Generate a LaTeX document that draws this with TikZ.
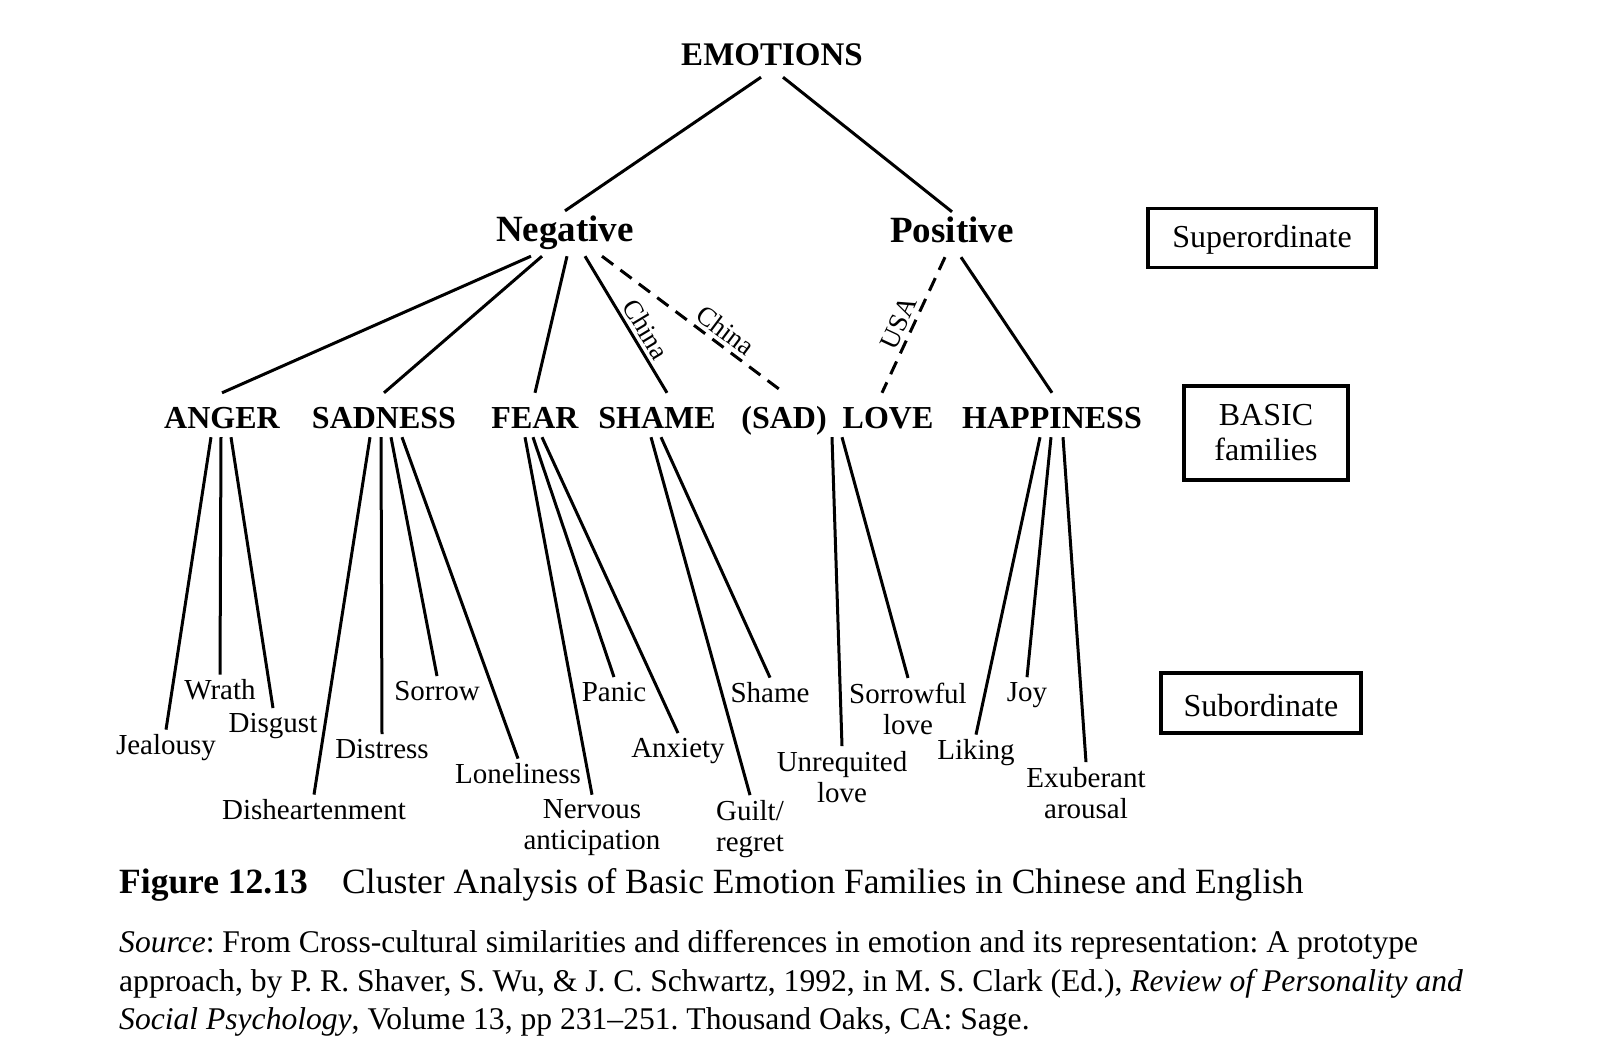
\documentclass[tikz,border=0pt]{standalone}
\usepackage{fontspec}
\setmainfont{Liberation Serif}
\usetikzlibrary{calc}
\tikzset{
    rootnode/.style = {font=\fontsize{33}{36}\selectfont\bfseries, anchor=base,
        inner sep=2pt, text depth=10pt},
    signnode/.style = {font=\fontsize{37}{40}\selectfont\bfseries, anchor=base,
        inner sep=2pt, text height=28pt, text depth=13pt},
    familynode/.style = {font=\fontsize{32}{35}\selectfont\bfseries, anchor=base,
        inner sep=2pt, text height=33pt, text depth=7pt},
    subnode/.style = {font=\fontsize{29}{31}\selectfont, align=center, inner sep=5pt},
    levelbox/.style = {draw, line width=3.2pt, font=\fontsize{32}{35}\selectfont,
        align=center, inner sep=0pt},
    link/.style = {draw, line width=3pt},
    culturelink/.style = {link, dash pattern=on 14pt off 9pt},
    culturelabel/.style = {font=\fontsize{27}{29}\selectfont, sloped, above, inner sep=4pt},
    captionline/.style = {anchor=base west, inner sep=0pt}
}

\begin{document}
\frenchspacing
\begin{tikzpicture}[x=1pt,y=-1pt]
    \useasboundingbox (0,0) rectangle (1600,1039);
    % top levels
    \node[rootnode] (emo) at (772,65) {EMOTIONS};
    \node[signnode] (neg) at (565,241) {Negative};
    \node[signnode] (pos) at (952,242) {Positive};
    \draw[link] ([xshift=-11pt]emo.south) -- (neg.north);
    \draw[link] ([xshift=11pt]emo.south) -- (pos.north);
    % basic families
    \node[familynode] (anger) at (222,428) {ANGER};
    \node[familynode] (sadness) at (384,428) {SADNESS};
    \node[familynode] (fear) at (535,428) {FEAR};
    \node[familynode] (shame) at (657,428) {SHAME};
    \node[familynode] (sad) at (784,428) {(SAD)};
    \node[familynode] (love) at (888,428) {LOVE};
    \node[familynode] (happy) at (1052,428) {HAPPINESS};
    \draw[link] ([xshift=-34pt]neg.south) -- (anger.north);
    \draw[link] ([xshift=-23pt]neg.south) -- (sadness.north);
    \draw[link] ([xshift=2pt]neg.south) -- (fear.north);
    \draw[link] ([xshift=20pt]neg.south) -- node[culturelabel, pos=0.59] {China} ([xshift=10pt]shame.north);
    \draw[culturelink] ([xshift=37pt]neg.south) -- node[culturelabel, pos=0.63] {China} (sad.north);
    \draw[culturelink] ([xshift=-7pt]pos.south) -- node[culturelabel, pos=0.53] {USA} ([xshift=-6pt]love.north);
    \draw[link] ([xshift=9pt]pos.south) -- (happy.north);
    % subordinate
    \node[subnode] (jeal) at (166,748) {Jealousy};
    \node[subnode] (wrath) at (220,690) {Wrath};
    \node[subnode] (disg) at (273,726) {Disgust};
    \node[subnode] (dish) at (314,810) {Disheartenment};
    \node[subnode] (distr) at (382,749) {Distress};
    \node[subnode] (sorrow) at (437,691) {Sorrow};
    \node[subnode] (lonely) at (518,774) {Loneliness};
    \node[subnode] (nerv) at (592,828) {Nervous\\anticipation};
    \node[subnode] (panic) at (614,692) {Panic};
    \node[subnode] (anx) at (678,751) {Anxiety};
    \node[subnode] (guilt) at (750,829) {Guilt/\\regret};
    \node[subnode] (shamesub) at (770,693) {Shame};
    \node[subnode] (unreq) at (842,777) {Unrequited\\love};
    \node[subnode] (sorrlove) at (908,709) {Sorrowful\\love};
    \node[subnode] (liking) at (976,753) {Liking};
    \node[subnode] (joy) at (1027,695) {Joy};
    \node[subnode] (exub) at (1086,793) {Exuberant\\arousal};
    \draw[link] ([xshift=-11pt]anger.south) -- (jeal.north);
    \draw[link] ([xshift=-1pt]anger.south) -- (wrath.north);
    \draw[link] ([xshift=9pt]anger.south) -- (disg.north);
    \draw[link] ([xshift=-14pt]sadness.south) -- (dish.north);
    \draw[link] ([xshift=-3pt]sadness.south) -- (distr.north);
    \draw[link] ([xshift=7pt]sadness.south) -- (sorrow.north);
    \draw[link] ([xshift=18pt]sadness.south) -- (lonely.north);
    \draw[link] ([xshift=-10pt]fear.south) -- (nerv.north);
    \draw[link] ([xshift=-2pt]fear.south) -- (panic.north);
    \draw[link] ([xshift=7pt]fear.south) -- (anx.north);
    \draw[link] ([xshift=-6pt]shame.south) -- (guilt.north);
    \draw[link] ([xshift=4pt]shame.south) -- (shamesub.north);
    \draw[link] ([xshift=-56pt]love.south) -- (unreq.north);
    \draw[link] ([xshift=-46pt]love.south) -- (sorrlove.north);
    \draw[link] ([xshift=-12pt]happy.south) -- (liking.north);
    \draw[link] ([xshift=-1pt]happy.south) -- (joy.north);
    \draw[link] ([xshift=11pt]happy.south) -- (exub.north);
    % level boxes
    \node[levelbox, minimum width=228pt, minimum height=59pt, text height=26pt, text depth=7pt] (supbox) at (1262,238) {Superordinate};
    \node[levelbox, minimum width=164pt, minimum height=94pt] (basicbox) at (1266,433) {BASIC\\families};
    \node[levelbox, minimum width=200pt, minimum height=60pt, text height=26pt, text depth=0pt] (subbox) at (1261,703) {Subordinate};
    % caption
    \node[captionline, font=\fontsize{35.5}{38}\selectfont\bfseries] (figno) at (119,893) {Figure 12.13};
    \node[captionline, font=\fontsize{35.5}{38}\selectfont] (figtitle) at (342,893) {Cluster Analysis of Basic Emotion Families in Chinese and English};
    \node[captionline, font=\fontsize{31.6}{34}\selectfont] (src1) at (119,952) {\textit{Source}: From Cross-cultural similarities and differences in emotion and its representation: A prototype};
    \node[captionline, font=\fontsize{31.6}{34}\selectfont] (src2) at (119,991) {approach, by P. R. Shaver, S. Wu, \& J. C. Schwartz, 1992, in M. S. Clark (Ed.), \textit{Review of Personality and}};
    \node[captionline, font=\fontsize{31.6}{34}\selectfont] (src3) at (119,1029) {\textit{Social Psychology}, Volume 13, pp 231--251. Thousand Oaks, CA: Sage.};
\end{tikzpicture}
\end{document}
